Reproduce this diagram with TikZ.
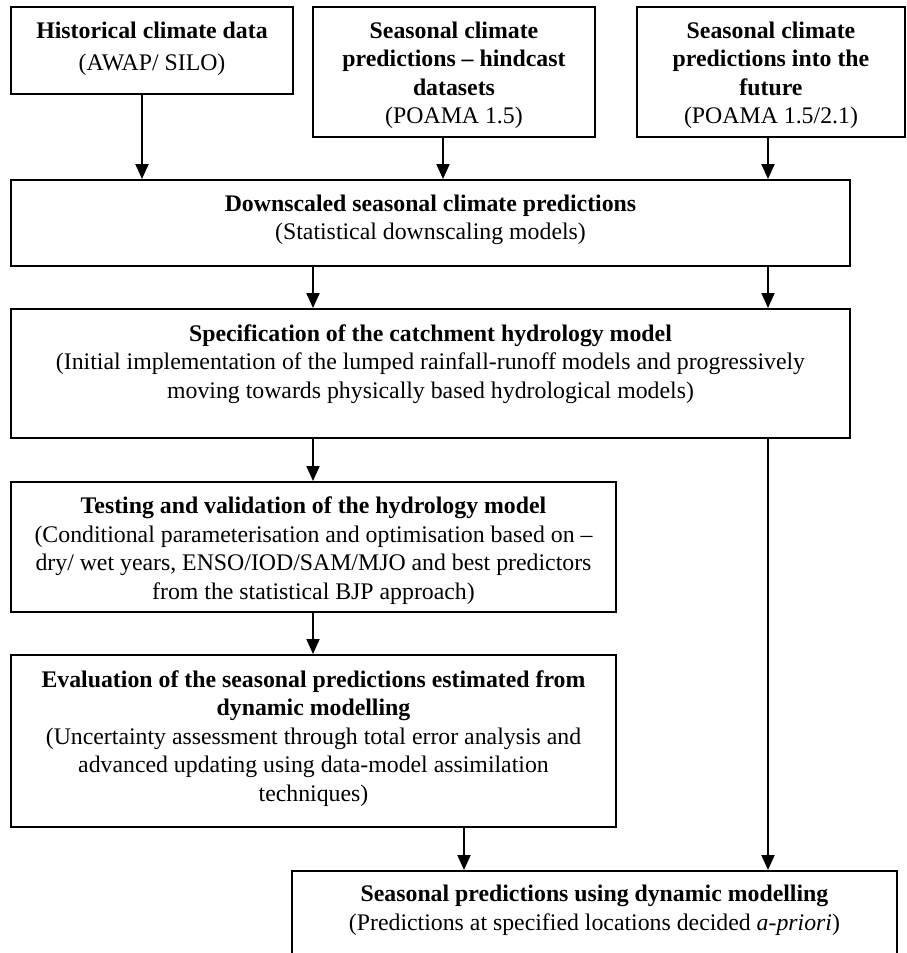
\documentclass[tikz,border=0pt]{standalone}
\usepackage{fontspec}
\setmainfont{Liberation Serif}
\usetikzlibrary{arrows.meta}
\begin{document}
\begin{tikzpicture}[x=1pt,y=-1pt,
  box/.style={draw, line width=2pt, inner sep=0pt},
  txt/.style={align=center, inner sep=0pt, font=\fontsize{23.8}{28.5}\selectfont},
  arr/.style={line width=2pt, -{Triangle[length=15pt,width=13pt]}}]
\useasboundingbox (0,0) rectangle (907,953);
\clip (0,0) rectangle (907,953);
% boxes
\node[box, minimum width=282pt, minimum height=87pt]  (b1) at (152,50.5) {};
\node[box, minimum width=282pt, minimum height=130pt] (b2) at (454,72) {};
\node[box, minimum width=268pt, minimum height=130pt] (b3) at (771,72) {};
\node[box, minimum width=839pt, minimum height=86pt]  (b4) at (430.5,223) {};
\node[box, minimum width=839pt, minimum height=129pt] (b5) at (430.5,373.5) {};
\node[box, minimum width=605pt, minimum height=130pt] (b6) at (313.5,547) {};
\node[box, minimum width=605pt, minimum height=172pt] (b7) at (313.5,741) {};
\node[box, minimum width=605pt, minimum height=130pt] (b8) at (594.5,936) {};
% texts
\node[txt] (t1) at (152,49) {\textbf{Historical climate data}\\[3pt](AWAP/ SILO)};
\node[txt] (t2) at (454,75.5) {\textbf{Seasonal climate}\\\textbf{predictions – hindcast}\\\textbf{datasets}\\(POAMA 1.5)};
\node[txt] (t3) at (771,75.5) {\textbf{Seasonal climate}\\\textbf{predictions into the}\\\textbf{future}\\(POAMA 1.5/2.1)};
\node[txt] (t4) at (430.5,220) {\textbf{Downscaled seasonal climate predictions}\\(Statistical downscaling models)};
\node[txt] (t5) at (430.5,364) {\textbf{Specification of the catchment hydrology model}\\(Initial implementation of the lumped rainfall-runoff models and progressively\\moving towards physically based hydrological models)};
\node[txt] (t6) at (313.5,550.5) {\textbf{Testing and validation of the hydrology model}\\(Conditional parameterisation and optimisation based on –\\dry/ wet years, ENSO/IOD/SAM/MJO and best predictors\\from the statistical BJP approach)};
\node[txt] (t7) at (313.5,738.5) {\textbf{Evaluation of the seasonal predictions estimated from}\\\textbf{dynamic modelling}\\(Uncertainty assessment through total error analysis and\\advanced updating using data-model assimilation\\techniques)};
\node[txt] (t8) at (594.5,910.5) {\textbf{Seasonal predictions using dynamic modelling}\\(Predictions at specified locations decided \textit{a-priori})};
% column coordinates
\coordinate (ca) at (142,0);
\coordinate (cb) at (443,0);
\coordinate (cc) at (768,0);
\coordinate (cd) at (313,0);
\coordinate (ce) at (464,0);
% connectors
\draw[arr] (b1.south -| ca) -- (b4.north -| ca);
\draw[arr] (b2.south -| cb) -- (b4.north -| cb);
\draw[arr] (b3.south -| cc) -- (b4.north -| cc);
\draw[arr] (b4.south -| cd) -- (b5.north -| cd);
\draw[arr] (b4.south -| cc) -- (b5.north -| cc);
\draw[arr] (b5.south -| cd) -- (b6.north -| cd);
\draw[arr] (b6.south -| cd) -- (b7.north -| cd);
\draw[arr] (b7.south -| ce) -- (b8.north -| ce);
\draw[arr] (b5.south -| cc) -- (b8.north -| cc);
\end{tikzpicture}
\end{document}
